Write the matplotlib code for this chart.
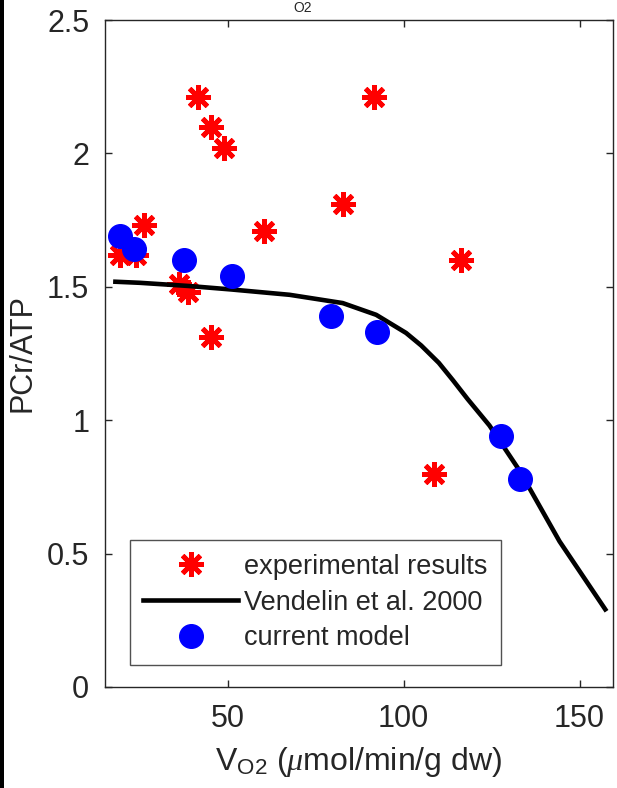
import matplotlib
matplotlib.use("Agg")
import matplotlib.pyplot as plt
from matplotlib.patches import Rectangle

plt.rcParams['font.family'] = ['Liberation Sans', 'DejaVu Sans']
plt.rcParams['mathtext.fontset'] = 'custom'
plt.rcParams['mathtext.rm'] = 'Liberation Sans'
plt.rcParams['mathtext.it'] = 'Liberation Serif:italic'

# experimental results (red asterisks)
exp_x = [19.5, 24.0, 26.2, 36.3, 38.7, 41.7, 45.3, 45.3, 48.9, 60.3, 82.7, 91.7, 108.6, 116.3]
exp_y = [1.62, 1.62, 1.73, 1.51, 1.48, 2.21, 2.10, 1.31, 2.02, 1.71, 1.81, 2.21, 0.80, 1.60]

# Vendelin et al. 2000 curve
ven_x = [18.1, 25, 39, 51, 67.6, 82.7, 92.2, 100.7, 105, 110, 114, 118.2, 124.4, 132.9, 144.3, 157.3]
ven_y = [1.519, 1.515, 1.503, 1.49, 1.47, 1.439, 1.395, 1.327, 1.28, 1.215, 1.15, 1.079, 0.98, 0.812, 0.546, 0.291]

# current model (blue dots)
mod_x = [19.5, 23.5, 37.7, 51.3, 79.4, 92.3, 127.7, 133.1]
mod_y = [1.69, 1.64, 1.60, 1.54, 1.39, 1.33, 0.94, 0.78]

x_ticks = [50, 100, 150]
y_ticks = [0, 0.5, 1, 1.5, 2, 2.5]
y_tick_labels = ['0', '0.5', '1', '1.5', '2', '2.5']

W, H = 617, 788
fig = plt.figure(figsize=(W / 100, H / 100), dpi=100)
ax = fig.add_axes([104.5 / W, 101 / H, 508.5 / W, 667 / H])

grey = '#262626'
ax.plot(exp_x, exp_y, linestyle='none', marker=(8, 2, 0), markersize=18,
        markeredgewidth=3.5, color='red', label='experimental results', zorder=2)
ax.plot(ven_x, ven_y, color='black', linewidth=3.3, label='Vendelin et al. 2000', zorder=3)
ax.plot(mod_x, mod_y, linestyle='none', marker='o', markersize=17,
        color='blue', label='current model', zorder=4)

ax.set_xlim(15, 159.5)
ax.set_ylim(0, 2.5)
ax.set_xticks(x_ticks)
ax.set_yticks(y_ticks)
ax.set_yticklabels(y_tick_labels)
ax.tick_params(direction='in', length=5, width=1, top=True, right=True,
               labelsize=22, colors=grey, labelcolor=grey)
ax.tick_params(axis='x', pad=12)
ax.tick_params(axis='y', pad=11)
for s in ax.spines.values():
    s.set_color(grey)
    s.set_linewidth(1)

ax.set_xlabel(r'V$_{\rm O2}$ ($\mu$mol/min/g dw)', fontsize=23, color=grey, labelpad=8)
ax.set_ylabel('PCr/ATP', fontsize=22, color=grey, labelpad=7)

leg = ax.legend(loc='lower left', bbox_to_anchor=(0.05, 0.033), borderaxespad=0,
                fontsize=19.5, frameon=True, fancybox=False, handlelength=3.5,
                handletextpad=0.22, borderpad=0.5, labelspacing=0.36)
leg.get_frame().set_edgecolor(grey)
leg.get_frame().set_linewidth(1)
for t in leg.get_texts():
    t.set_color(grey)

# title remnant at the top edge
fig.text(303 / W, 1 - 1 / H, 'O2', fontsize=10, color=grey, ha='center', va='top')

# dark strip on the left edge of the screenshot
fig.patches.append(Rectangle((0, 0), 4 / W, 1, transform=fig.transFigure,
                             facecolor='black', edgecolor='none'))

fig.savefig('out.png', dpi=100)
